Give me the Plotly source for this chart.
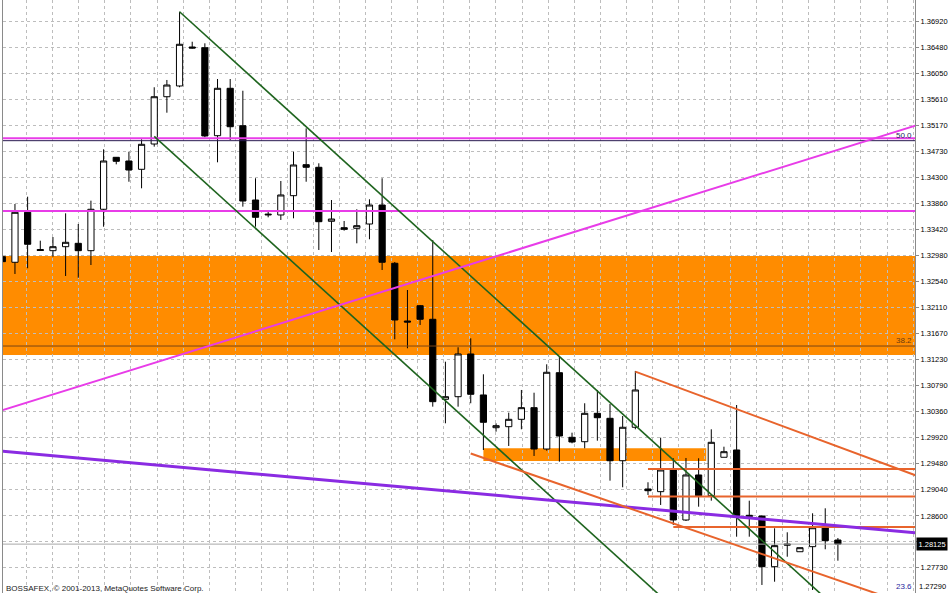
import plotly.graph_objects as go

# ---- candle data (bar index, OHLC) ----
bars = list(range(67))
opens = [1.32964, 1.32870, 1.33711, 1.33085, 1.33065, 1.33132, 1.33189, 1.33065, 1.33762, 1.34637,
         1.34575, 1.34435, 1.34861, 1.35657, 1.35838, 1.36494, 1.36482, 1.35001, 1.35799, 1.35169,
         1.33918, 1.33666, 1.33666, 1.33991, 1.34513, 1.34469, 1.33560, 1.33452, 1.33442, 1.33514,
         1.33834, 1.32853, 1.31881, 1.32139, 1.31910, 1.30563, 1.30607, 1.31326, 1.30636, 1.30085,
         1.30102, 1.30226, 1.30422, 1.29726, 1.31011, 1.29923, 1.29849, 1.30327, 1.30243, 1.29529,
         1.30092, 1.29053, 1.29008, 1.29373, 1.28531, 1.29289, 1.28940, 1.29587, 1.29710, 1.28587,
         1.28598, 1.27745, 1.28127, 1.27997, 1.28082, 1.28401, 1.28194]
highs = [1.33245, 1.33851, 1.33974, 1.33233, 1.33295, 1.33694, 1.33514, 1.33907, 1.34772, 1.34642,
         1.34731, 1.34940, 1.35816, 1.35939, 1.37088, 1.36583, 1.36556, 1.35955, 1.35955, 1.35758,
         1.34284, 1.33716, 1.34238, 1.34731, 1.35125, 1.34536, 1.33918, 1.33565, 1.33762, 1.33930,
         1.34284, 1.32875, 1.32403, 1.32151, 1.33245, 1.31196, 1.31439, 1.31590, 1.30984, 1.30159,
         1.30338, 1.30720, 1.30674, 1.31152, 1.31280, 1.30001, 1.30496, 1.30720, 1.30484, 1.30282,
         1.31040, 1.29166, 1.29917, 1.29570, 1.29575, 1.29570, 1.30058, 1.29765, 1.30467, 1.28856,
         1.28604, 1.28391, 1.28324, 1.28065, 1.28644, 1.28728, 1.28228]
lows = [1.32235, 1.32673, 1.32769, 1.33060, 1.32964, 1.32639, 1.32610, 1.32824, 1.33469, 1.34519,
        1.34226, 1.34115, 1.34816, 1.35388, 1.35816, 1.36469, 1.34974, 1.34553, 1.34928, 1.33806,
        1.33469, 1.33627, 1.33582, 1.33610, 1.34226, 1.33077, 1.33043, 1.33402, 1.33189, 1.33257,
        1.32740, 1.31573, 1.31422, 1.31814, 1.30439, 1.30159, 1.30439, 1.30496, 1.29710, 1.30018,
        1.29777, 1.30058, 1.29609, 1.29698, 1.29513, 1.29822, 1.29738, 1.29866, 1.29193, 1.29082,
        1.30058, 1.28952, 1.28784, 1.28447, 1.28514, 1.28755, 1.28856, 1.29587, 1.28250, 1.28250,
        1.27437, 1.27492, 1.27913, 1.27997, 1.27353, 1.28038, 1.27846]
closes = [1.32880, 1.33711, 1.33173, 1.33068, 1.33132, 1.33206, 1.33065, 1.33762, 1.34575, 1.34570,
          1.34423, 1.34856, 1.35657, 1.35854, 1.36540, 1.36477, 1.34996, 1.35799, 1.35152, 1.33901,
          1.33627, 1.33678, 1.34003, 1.34508, 1.34469, 1.33553, 1.33598, 1.33425, 1.33486, 1.33834,
          1.32870, 1.31898, 1.31864, 1.31910, 1.30523, 1.30607, 1.31326, 1.30647, 1.30176, 1.30119,
          1.30226, 1.30422, 1.29726, 1.31018, 1.29945, 1.29844, 1.30327, 1.30253, 1.29529, 1.30092,
          1.30720, 1.29024, 1.29373, 1.28531, 1.29289, 1.28940, 1.29839, 1.29681, 1.28604, 1.28610,
          1.27745, 1.28099, 1.28110, 1.28065, 1.28401, 1.28183, 1.28125]

# ---- price axis labels ----
tick_values = [1.36920, 1.36480, 1.36050, 1.35610, 1.35170, 1.34730, 1.34300, 1.33860, 1.33420,
               1.32980, 1.32540, 1.32110, 1.31670, 1.31230, 1.30790, 1.30360, 1.29920, 1.29480,
               1.29040, 1.28600, 1.28170, 1.27730]
tick_labels = ["1.36920", "1.36480", "1.36050", "1.35610", "1.35170", "1.34730", "1.34300", "1.33860",
               "1.33420", "1.32980", "1.32540", "1.32110", "1.31670", "1.31230", "1.30790", "1.30360",
               "1.29920", "1.29480", "1.29040", "1.28600", "", "1.27730"]
bid_price = 1.28125
bid_label = "1.28125"
bottom_label = "1.27290"          # sits at the very bottom edge

# ---- zones ----
big_zone = [1.31309, 1.32976]          # price bottom / top, full width
small_zone_bars = [38, 55.6]
small_zone_prices = [1.29525, 1.29739]

# ---- fibonacci levels ----
fib_levels = [1.34917, 1.31460]
fib_texts = ["50.0", "38.2", "23.6"]   # 23.6 level lies just below the view

# ---- horizontal lines: price, start bar ----
magenta_levels = [1.34957, 1.33733]
orange_levels = [1.29390, 1.28927, 1.28413]
orange_level_starts = [51, 51, 53]

# ---- trend lines: anchor bars / prices ----
green_upper_x = [14, 70]
green_upper_y = [1.37088, 1.26251]
green_lower_x = [12, 60]
green_lower_y = [1.34990, 1.25701]
magenta_trend_x = [-1, 74]
magenta_trend_y = [1.30312, 1.35295]
purple_trend_x = [-1, 74]
purple_trend_y = [1.29708, 1.28280]
orange_upper_x = [50, 74]
orange_upper_y = [1.31028, 1.29135]
orange_lower_x = [37, 74]
orange_lower_y = [1.29650, 1.26929]

copyright_text = "BOSSAFEX, © 2001-2013, MetaQuotes Software Corp."

X_RANGE = [0.055, 72.09]
Y_RANGE = [1.27302, 1.372853]

ORANGE_FILL = "#FF8C00"
ORANGE_LINE = "#E8642C"
GREEN = "#1E641E"
MAGENTA = "#E83CE8"
PURPLE = "#8A2BE2"
FONT = "Liberation Sans"
AXIS_FONT_SIZE = 7.5

fig = go.Figure()

fig.add_trace(go.Candlestick(
    x=bars, open=opens, high=highs, low=lows, close=closes,
    increasing=dict(line=dict(color="black", width=1), fillcolor="white"),
    decreasing=dict(line=dict(color="black", width=1), fillcolor="black"),
    whiskerwidth=0, hoverinfo="skip",
))

full_x = [-1, 74]

for p in magenta_levels:
    fig.add_trace(go.Scatter(x=full_x, y=[p, p], mode="lines",
                             line=dict(color=MAGENTA, width=2), hoverinfo="skip"))
fig.add_trace(go.Scatter(x=full_x, y=[fib_levels[0]] * 2, mode="lines",
                         line=dict(color="#2A1A50", width=1), hoverinfo="skip"))
fig.add_trace(go.Scatter(x=full_x, y=[fib_levels[1]] * 2, mode="lines",
                         line=dict(color="#7A4614", width=1), hoverinfo="skip"))
fig.add_trace(go.Scatter(x=full_x, y=[bid_price] * 2, mode="lines",
                         line=dict(color="#A8A8A8", width=1), hoverinfo="skip"))

for p, s in zip(orange_levels, orange_level_starts):
    fig.add_trace(go.Scatter(x=[s, 74], y=[p, p], mode="lines",
                             line=dict(color=ORANGE_LINE, width=2), hoverinfo="skip"))

for xs, ys, col, w in [
    (green_upper_x, green_upper_y, GREEN, 1.6),
    (green_lower_x, green_lower_y, GREEN, 1.6),
    (magenta_trend_x, magenta_trend_y, MAGENTA, 2),
    (purple_trend_x, purple_trend_y, PURPLE, 3),
    (orange_upper_x, orange_upper_y, ORANGE_LINE, 2),
    (orange_lower_x, orange_lower_y, ORANGE_LINE, 2),
]:
    fig.add_trace(go.Scatter(x=xs, y=ys, mode="lines", line=dict(color=col, width=w),
                             hoverinfo="skip"))

# zones (behind grid and candles)
fig.add_shape(type="rect", xref="paper", x0=0, x1=1, yref="y", y0=big_zone[0], y1=big_zone[1],
              fillcolor=ORANGE_FILL, line=dict(width=0), layer="below")
fig.add_shape(type="rect", xref="x", x0=small_zone_bars[0], x1=small_zone_bars[1], yref="y",
              y0=small_zone_prices[0], y1=small_zone_prices[1],
              fillcolor=ORANGE_FILL, line=dict(width=0), layer="below")

# fib texts
fib_colors = ["#1C1C5C", "#6B3A10", "#2828A0"]
for p, t, c in zip(fib_levels, fib_texts[:2], fib_colors[:2]):
    fig.add_annotation(xref="paper", x=0.9978, xanchor="right", yref="y", y=p, yanchor="bottom",
                       text=t, showarrow=False, font=dict(family=FONT, size=8, color=c),
                       borderpad=0)
fig.add_annotation(xref="paper", x=0.9978, xanchor="right", yref="paper", y=0, yanchor="bottom",
                   yshift=1, text=fib_texts[2], showarrow=False,
                   font=dict(family=FONT, size=8, color=fib_colors[2]), borderpad=0)

# bid label
fig.add_annotation(xref="paper", x=1, xanchor="left", xshift=1, yref="y", y=bid_price,
                   yanchor="middle", text=bid_label, showarrow=False, bgcolor="black",
                   font=dict(family=FONT, size=AXIS_FONT_SIZE, color="white"), borderpad=1.5)
fig.add_annotation(xref="paper", x=1, xanchor="left", xshift=3, yref="paper", y=0,
                   yanchor="bottom", yshift=1, text=bottom_label, showarrow=False,
                   font=dict(family=FONT, size=AXIS_FONT_SIZE, color="black"), borderpad=0)

# copyright
fig.add_annotation(xref="paper", x=0, xanchor="left", xshift=1, yref="paper", y=0,
                   yanchor="top", yshift=11, text=copyright_text, showarrow=False,
                   font=dict(family=FONT, size=8, color="#222222"))

fig.update_layout(
    width=948, height=593,
    margin=dict(l=3, r=33, t=0, b=0),
    plot_bgcolor="white", paper_bgcolor="white",
    showlegend=False,
    template="none",
    xaxis=dict(range=X_RANGE, rangeslider=dict(visible=False), showticklabels=False,
               showgrid=True, gridcolor="#BDBDBD", griddash="dot", gridwidth=1,
               tick0=1.927, dtick=2.0592, zeroline=False, ticks="", showline=False,
               automargin=False),
    yaxis=dict(range=Y_RANGE, side="right", tickvals=tick_values, ticktext=tick_labels,
               showgrid=True, gridcolor="#BDBDBD", griddash="dot", gridwidth=1,
               zeroline=False, showline=True, linecolor="#8A8A8A", linewidth=1, mirror=True,
               ticks="outside", ticklen=3, tickcolor="#8A8A8A",
               tickfont=dict(family=FONT, size=AXIS_FONT_SIZE, color="black"), automargin=False),
)

fig.write_html("out.html", config={"displayModeBar": False},
               post_script="document.body.style.margin='0';document.body.style.overflow='hidden';")
